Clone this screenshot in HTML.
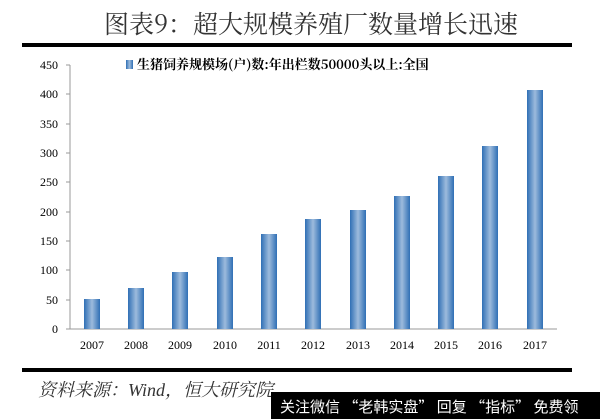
<html><head><style>body{margin:0;width:600px;height:419px;background:#fff;overflow:hidden;position:relative;font-family:"Liberation Serif","Noto Serif CJK SC",serif}</style></head><body>
<svg width="600" height="419" style="position:absolute;left:0;top:0">
<defs><linearGradient id="g" x1="0" x2="1"><stop offset="0" stop-color="#2f6fb5"/><stop offset="0.5" stop-color="#9dbbdc"/><stop offset="1" stop-color="#2f6fb5"/></linearGradient></defs>
<text x="311" y="33" text-anchor="middle" font-size="25" fill="#333" font-family="'Noto Serif CJK SC',serif">图表9：超大规模养殖厂数量增长迅速</text>
<rect x="22" y="43" width="550" height="4" fill="#000"/>
<rect x="126" y="60" width="7" height="9" fill="url(#g)"/>
<text x="137" y="69" font-size="13" font-weight="bold" fill="#000" font-family="'Noto Serif CJK SC',serif">生猪饲养规模场(户)数:年出栏数50000头以上:全国</text>
<g font-size="12" fill="#000" text-anchor="end">
<text x="58" y="69">450</text><text x="58" y="98">400</text><text x="58" y="128">350</text><text x="58" y="157">300</text><text x="58" y="186">250</text><text x="58" y="216">200</text><text x="58" y="245">150</text><text x="58" y="274">100</text><text x="58" y="304">50</text><text x="58" y="333">0</text></g>
<g stroke="#999" stroke-width="1"><line x1="70" y1="65" x2="70" y2="329"/><line x1="66" y1="65" x2="70" y2="65"/><line x1="66" y1="94" x2="70" y2="94"/><line x1="66" y1="124" x2="70" y2="124"/><line x1="66" y1="153" x2="70" y2="153"/><line x1="66" y1="182" x2="70" y2="182"/><line x1="66" y1="212" x2="70" y2="212"/><line x1="66" y1="241" x2="70" y2="241"/><line x1="66" y1="270" x2="70" y2="270"/><line x1="66" y1="300" x2="70" y2="300"/><line x1="66" y1="329" x2="557" y2="329"/></g>
<g fill="url(#g)">
<rect x="84" y="299" width="16" height="30"/><rect x="128" y="288" width="16" height="41"/><rect x="172" y="272" width="16" height="57"/><rect x="217" y="257" width="16" height="72"/><rect x="261" y="234" width="16" height="95"/><rect x="305" y="219" width="16" height="110"/><rect x="350" y="210" width="16" height="119"/><rect x="394" y="196" width="16" height="133"/><rect x="438" y="176" width="16" height="153"/><rect x="482" y="146" width="16" height="183"/><rect x="527" y="90" width="16" height="239"/></g>
<g font-size="12" fill="#000" text-anchor="middle">
<text x="92" y="349">2007</text><text x="136" y="349">2008</text><text x="180" y="349">2009</text><text x="225" y="349">2010</text><text x="269" y="349">2011</text><text x="313" y="349">2012</text><text x="358" y="349">2013</text><text x="402" y="349">2014</text><text x="446" y="349">2015</text><text x="490" y="349">2016</text><text x="535" y="349">2017</text></g>
<rect x="22" y="368" width="550" height="4" fill="#000"/>
<text x="38" y="396" font-size="18" font-style="italic" fill="#333" font-family="'Liberation Serif','Noto Serif CJK SC',serif">资料来源：Wind，恒大研究院</text>
<rect x="271" y="392" width="329" height="27" fill="#000"/>
<text x="280" y="412" font-size="15" fill="#fff" font-family="'Noto Sans CJK SC',sans-serif">关注微信 “老韩实盘” 回复 “指标” 免费领</text>
</svg></body></html>
